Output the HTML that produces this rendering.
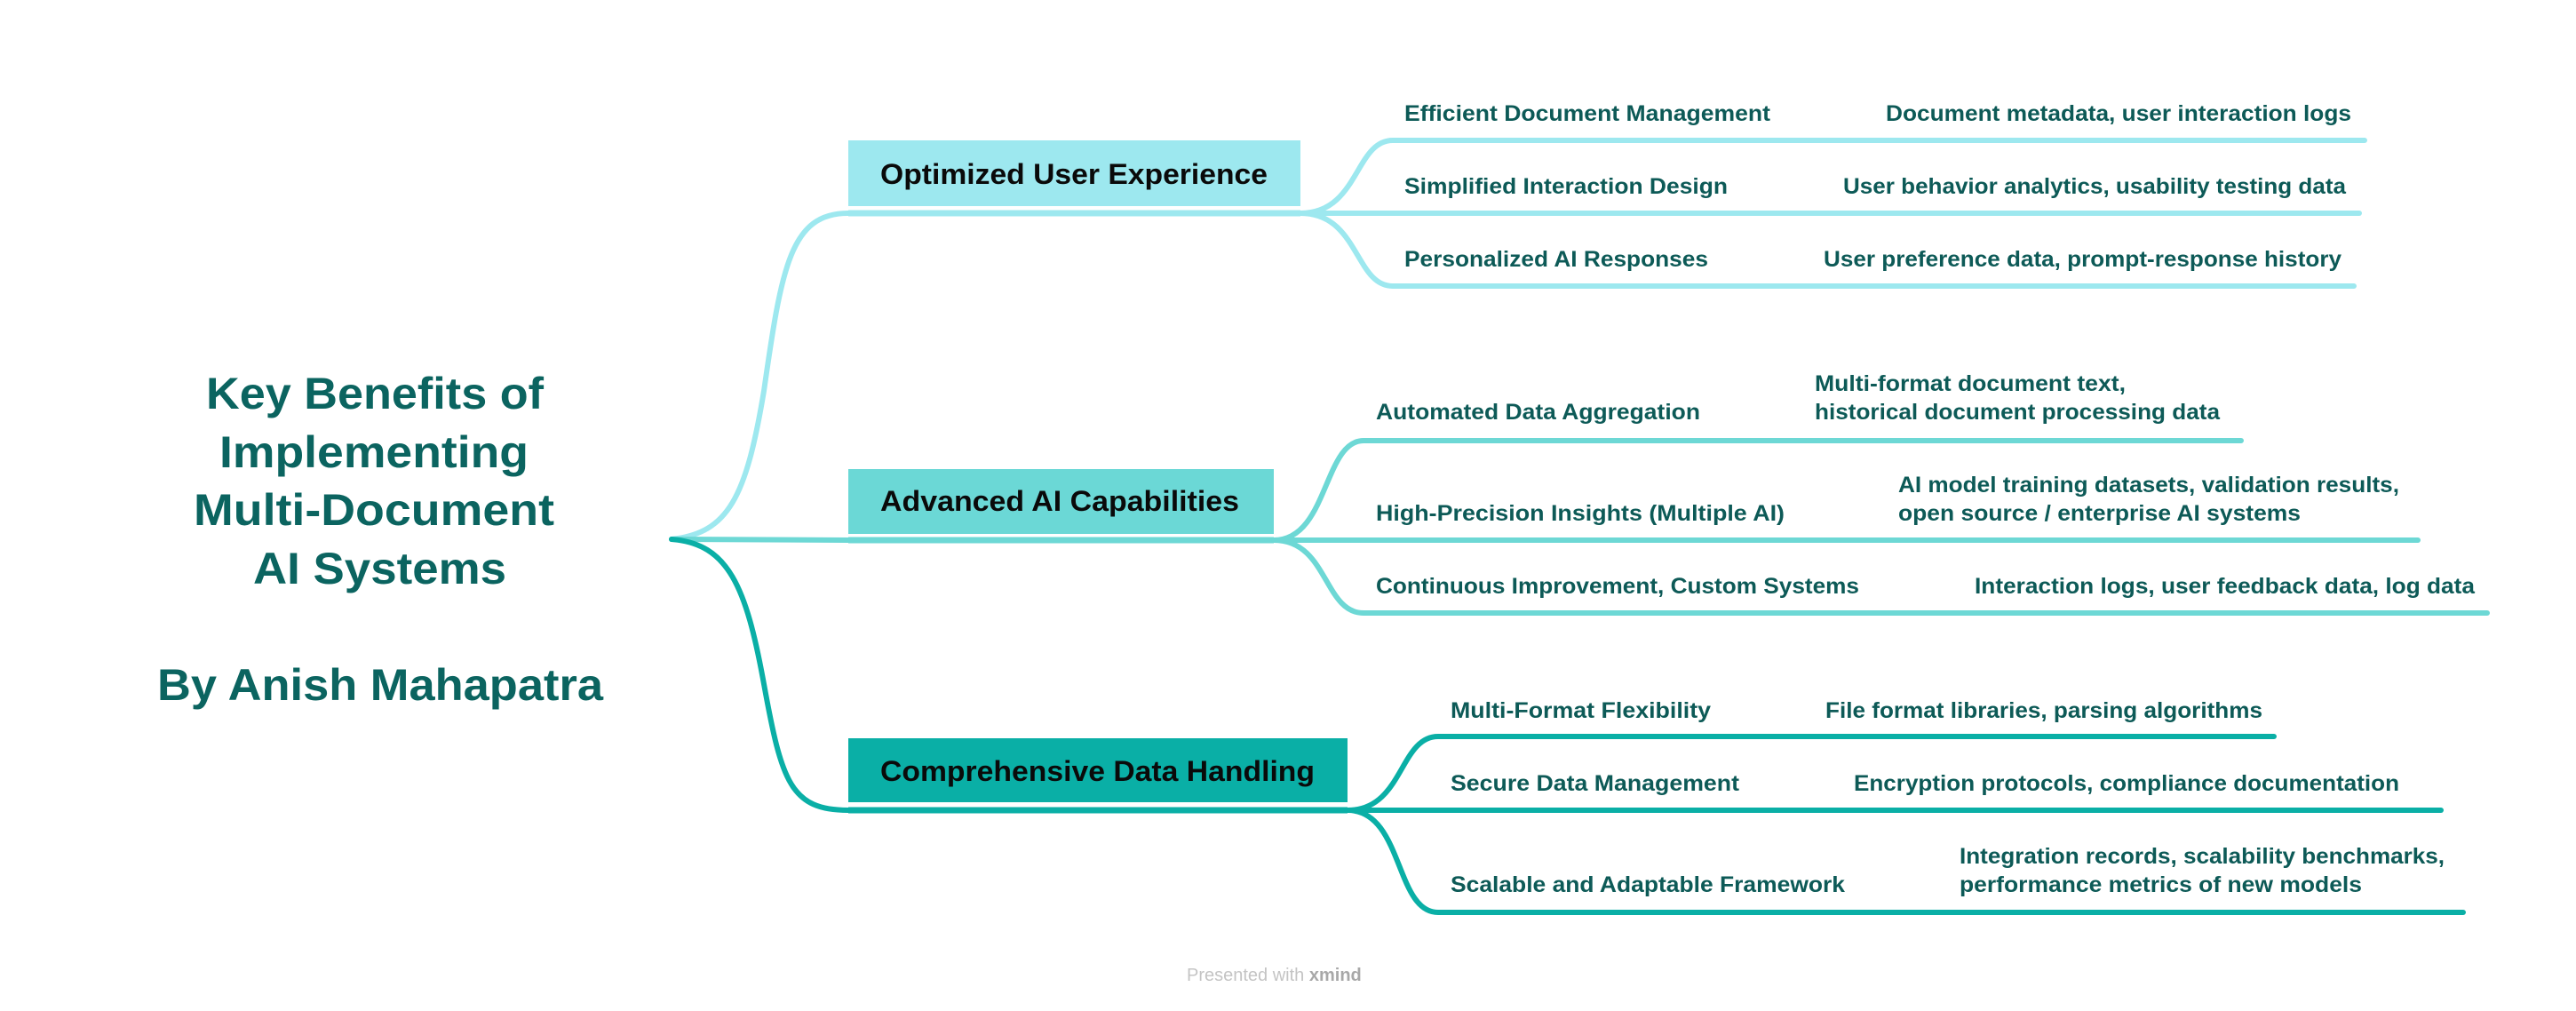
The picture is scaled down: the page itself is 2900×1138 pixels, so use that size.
<!DOCTYPE html>
<html><head><meta charset="utf-8"><style>
html,body{margin:0;padding:0;background:#fff;}
svg{display:block;}
text{font-family:"Liberation Sans",sans-serif;font-weight:bold;dominant-baseline:central;}
.t{fill:#0b6460;font-size:50px;}
.p{fill:#0a0a0a;font-size:32px;}
.s{fill:#0d5a57;font-size:25px;}
</style></head><body>
<svg width="2900" height="1138" viewBox="0 0 2900 1138" xmlns="http://www.w3.org/2000/svg">
<!-- central title -->
<text class="t" x="232" y="443" textLength="380" lengthAdjust="spacingAndGlyphs">Key Benefits of</text>
<text class="t" x="247" y="509" textLength="348" lengthAdjust="spacingAndGlyphs">Implementing</text>
<text class="t" x="218" y="574" textLength="406" lengthAdjust="spacingAndGlyphs">Multi-Document</text>
<text class="t" x="285" y="640" textLength="285" lengthAdjust="spacingAndGlyphs">AI Systems</text>
<text class="t" x="177" y="771" textLength="502" lengthAdjust="spacingAndGlyphs">By Anish Mahapatra</text>

<!-- root connectors -->
<g fill="none" stroke-width="6" stroke-linecap="round">
<path d="M756,607 C820,600 840,560 860,440 C880,300 890,240 955,240" stroke="#9de8ef"/>
<path d="M756,607 L955,608" stroke="#6dd8d5"/>
<path d="M756,607 C820,612 840,660 860,770 C880,880 890,912 955,912" stroke="#0aafa6"/>
</g>

<!-- primary boxes -->
<rect x="955" y="158" width="509" height="74" fill="#9de8ef"/>
<line x1="955" y1="240" x2="1464" y2="240" stroke="#9de8ef" stroke-width="7"/>
<text class="p" x="991" y="196" textLength="436" lengthAdjust="spacingAndGlyphs">Optimized User Experience</text>

<rect x="955" y="528" width="479" height="73" fill="#6bd8d6"/>
<line x1="955" y1="608" x2="1434" y2="608" stroke="#6dd8d5" stroke-width="7"/>
<text class="p" x="991" y="564" textLength="404" lengthAdjust="spacingAndGlyphs">Advanced AI Capabilities</text>

<rect x="955" y="831" width="562" height="72" fill="#0aafa6"/>
<line x1="955" y1="912" x2="1517" y2="912" stroke="#0aafa6" stroke-width="7"/>
<text class="p" x="991" y="868" textLength="489" lengthAdjust="spacingAndGlyphs">Comprehensive Data Handling</text>

<!-- group 1 -->
<g fill="none" stroke="#9de8ef" stroke-width="6" stroke-linecap="round">
<path d="M1464,240 C1530,240 1525,158 1568,158 L2662,158"/>
<path d="M1464,240 L2656,240"/>
<path d="M1464,240 C1530,240 1525,322 1568,322 L2650,322"/>
</g>
<text class="s" x="1581" y="128" textLength="412" lengthAdjust="spacingAndGlyphs">Efficient Document Management</text>
<text class="s" x="2123" y="128" textLength="524" lengthAdjust="spacingAndGlyphs">Document metadata, user interaction logs</text>
<text class="s" x="1581" y="210" textLength="364" lengthAdjust="spacingAndGlyphs">Simplified Interaction Design</text>
<text class="s" x="2075" y="210" textLength="566" lengthAdjust="spacingAndGlyphs">User behavior analytics, usability testing data</text>
<text class="s" x="1581" y="292" textLength="342" lengthAdjust="spacingAndGlyphs">Personalized AI Responses</text>
<text class="s" x="2053" y="292" textLength="583" lengthAdjust="spacingAndGlyphs">User preference data, prompt-response history</text>

<!-- group 2 -->
<g fill="none" stroke="#6dd8d5" stroke-width="6" stroke-linecap="round">
<path d="M1434,608 C1495,608 1490,496 1535,496 L2523,496"/>
<path d="M1434,608 L2722,608"/>
<path d="M1434,608 C1495,608 1490,690 1535,690 L2800,690"/>
</g>
<text class="s" x="1549" y="464" textLength="365" lengthAdjust="spacingAndGlyphs">Automated Data Aggregation</text>
<text class="s" x="2043" y="432" textLength="350" lengthAdjust="spacingAndGlyphs">Multi-format document text,</text>
<text class="s" x="2043" y="464" textLength="456" lengthAdjust="spacingAndGlyphs">historical document processing data</text>
<text class="s" x="1549" y="578" textLength="460" lengthAdjust="spacingAndGlyphs">High-Precision Insights (Multiple AI)</text>
<text class="s" x="2137" y="546" textLength="564" lengthAdjust="spacingAndGlyphs">AI model training datasets, validation results,</text>
<text class="s" x="2137" y="578" textLength="453" lengthAdjust="spacingAndGlyphs">open source / enterprise AI systems</text>
<text class="s" x="1549" y="660" textLength="544" lengthAdjust="spacingAndGlyphs">Continuous Improvement, Custom Systems</text>
<text class="s" x="2223" y="660" textLength="563" lengthAdjust="spacingAndGlyphs">Interaction logs, user feedback data, log data</text>

<!-- group 3 -->
<g fill="none" stroke="#0aafa6" stroke-width="6" stroke-linecap="round">
<path d="M1517,912 C1580,912 1575,829 1619,829 L2560,829"/>
<path d="M1517,912 L2748,912"/>
<path d="M1517,912 C1580,912 1570,1027 1619,1027 L2773,1027"/>
</g>
<text class="s" x="1633" y="800" textLength="293" lengthAdjust="spacingAndGlyphs">Multi-Format Flexibility</text>
<text class="s" x="2055" y="800" textLength="492" lengthAdjust="spacingAndGlyphs">File format libraries, parsing algorithms</text>
<text class="s" x="1633" y="882" textLength="325" lengthAdjust="spacingAndGlyphs">Secure Data Management</text>
<text class="s" x="2087" y="882" textLength="614" lengthAdjust="spacingAndGlyphs">Encryption protocols, compliance documentation</text>
<text class="s" x="1633" y="996" textLength="444" lengthAdjust="spacingAndGlyphs">Scalable and Adaptable Framework</text>
<text class="s" x="2206" y="964" textLength="546" lengthAdjust="spacingAndGlyphs">Integration records, scalability benchmarks,</text>
<text class="s" x="2206" y="996" textLength="453" lengthAdjust="spacingAndGlyphs">performance metrics of new models</text>

<!-- footer -->
<text x="1336" y="1098" style="font-weight:normal;font-size:20px;fill:#c4c4c4">Presented with <tspan style="font-weight:bold;fill:#a8a8a8">xmind</tspan></text>
</svg>
</body></html>
